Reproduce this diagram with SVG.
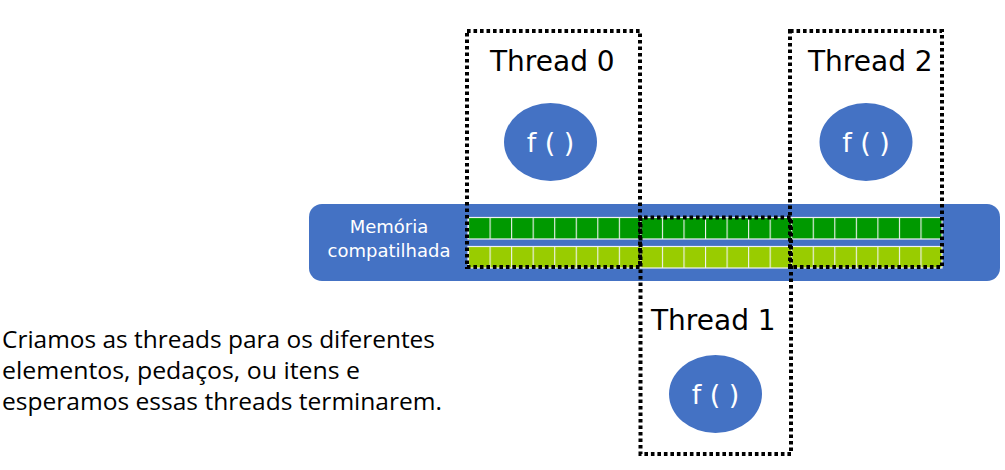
<svg xmlns="http://www.w3.org/2000/svg" width="1005" height="470" viewBox="0 0 1005 470">
<style>
.thr{font-family:"DejaVu Sans",Verdana,sans-serif;font-size:28px;fill:#000}
.fn{font-family:"DejaVu Sans",Verdana,sans-serif;font-size:27px;fill:#fff;text-anchor:middle}
.mem{font-family:"DejaVu Sans",Verdana,sans-serif;font-size:18px;fill:#fff;text-anchor:middle}
.cap{font-family:"Open Sans","Noto Sans",sans-serif;font-size:23px;fill:#000}
.ell{fill:#4472C4}
.box{fill:none;stroke:#000;stroke-width:4;stroke-dasharray:3.6 2.9}
.cells{stroke:#f2f2f2;stroke-width:1.2}
</style>
<defs>
<pattern id="cellgrid" x="468" y="0" width="21.545" height="470" patternUnits="userSpaceOnUse">
<line x1="0.5" y1="0" x2="0.5" y2="470" stroke="#f2f2f2" stroke-width="1.2"/>
</pattern>
</defs>
<rect width="1005" height="470" fill="#fff"/>
<g id="memory">
<rect x="309" y="204" width="691" height="77" rx="13" fill="#4472C4"/>
<text class="mem" x="389" y="233">Memória</text>
<text class="mem" x="389" y="257">compatilhada</text>
<rect x="468" y="217.5" width="474" height="21.5" fill="#009900" class="cells"/>
<rect x="468" y="217.5" width="474" height="21.5" fill="url(#cellgrid)"/>
<rect x="468" y="246.5" width="474" height="21.5" fill="#99CC00" class="cells"/>
<rect x="468" y="246.5" width="474" height="21.5" fill="url(#cellgrid)"/>
</g>
<g id="thread0">
<rect class="box" x="467" y="31" width="173" height="236"/>
<text class="thr" x="490" y="71">Thread 0</text>
<ellipse class="ell" cx="550.5" cy="142" rx="46.5" ry="39"/>
<text class="fn" x="550.5" y="152">f ( )</text>
</g>
<g id="thread1">
<rect class="box" x="640.5" y="217.5" width="150.5" height="236.5" stroke-dashoffset="3"/>
<text class="thr" x="651" y="330">Thread 1</text>
<ellipse class="ell" cx="715.5" cy="394" rx="46.5" ry="39"/>
<text class="fn" x="715.5" y="404">f ( )</text>
</g>
<g id="thread2">
<rect class="box" x="790" y="31" width="152" height="236"/>
<text class="thr" x="808" y="71">Thread 2</text>
<ellipse class="ell" cx="866" cy="142" rx="46.5" ry="39"/>
<text class="fn" x="866" y="152">f ( )</text>
</g>
<g id="connectors"/>
<g id="caption">
<text class="cap" x="2" y="348" textLength="433" lengthAdjust="spacingAndGlyphs">Criamos as threads para os diferentes</text>
<text class="cap" x="2" y="379" textLength="358" lengthAdjust="spacingAndGlyphs">elementos, pedaços, ou itens e</text>
<text class="cap" x="2" y="410" textLength="440" lengthAdjust="spacingAndGlyphs">esperamos essas threads terminarem.</text>
</g>
</svg>
